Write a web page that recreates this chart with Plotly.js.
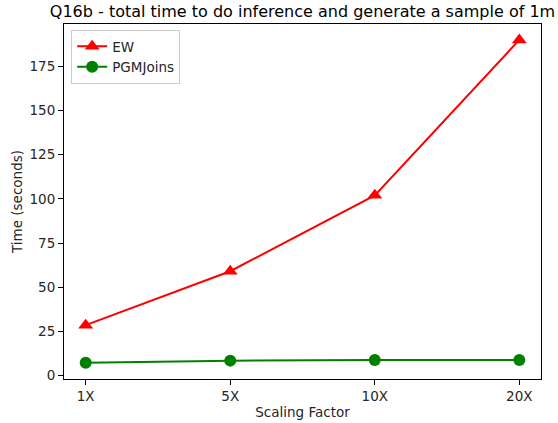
<!DOCTYPE html>
<html>
<head>
<meta charset="utf-8">
<script src="https://cdn.plot.ly/plotly-3.0.1.min.js"></script>
<style>
  html, body { margin: 0; padding: 0; background: #fff; }
  #chart { width: 558px; height: 423px; }
</style>
</head>
<body>
<div id="chart"></div>
<script>
// Scaling factors on the x axis
const scalingFactors = ["1X", "5X", "10X", "20X"];
// Total time (seconds) for inference + sampling
const ewTimes = [28.5, 59, 102, 190];
const pgmJoinsTimes = [7.2, 8.4, 8.7, 8.7];

const font = "DejaVu Sans, sans-serif";

const traces = [
  {
    x: scalingFactors,
    y: ewTimes,
    name: "EW",
    type: "scatter",
    mode: "lines+markers",
    line: { color: "#ff0000", width: 2 },
    marker: { symbol: "triangle-up", size: 13, color: "#ff0000" }
  },
  {
    x: scalingFactors,
    y: pgmJoinsTimes,
    name: "PGMJoins",
    type: "scatter",
    mode: "lines+markers",
    line: { color: "#008000", width: 2 },
    marker: { symbol: "circle", size: 12, color: "#008000" }
  }
];

const layout = {
  width: 558,
  height: 423,
  margin: { l: 64, r: 17, t: 24, b: 44 },
  paper_bgcolor: "#ffffff",
  plot_bgcolor: "#ffffff",
  font: { family: font, size: 13, color: "#262626" },
  title: {
    text: "Q16b - total time to do inference and generate a sample of 1m",
    font: { family: font, size: 16, color: "#000000" },
    x: 0.5, xref: "paper",
    y: 0.972, yref: "container", yanchor: "middle"
  },
  xaxis: {
    type: "category",
    range: [-0.15, 3.15],
    showgrid: false,
    zeroline: false,
    showline: true,
    linecolor: "#000000",
    linewidth: 1,
    mirror: true,
    ticks: "outside",
    ticklen: 5,
    tickcolor: "#000000",
    tickfont: { family: font, size: 13.5, color: "#262626" },
    title: { text: "Scaling Factor", font: { family: font, size: 13.5, color: "#262626" }, standoff: 4 }
  },
  yaxis: {
    range: [-2, 199],
    tickvals: [0, 25, 50, 75, 100, 125, 150, 175],
    showgrid: false,
    zeroline: false,
    showline: true,
    linecolor: "#000000",
    linewidth: 1,
    mirror: true,
    ticks: "outside",
    ticklen: 5,
    tickcolor: "#000000",
    tickfont: { family: font, size: 13.5, color: "#262626" },
    title: { text: "Time (seconds)", font: { family: font, size: 13.5, color: "#262626" }, standoff: 3 }
  },
  legend: {
    x: 0.015, y: 0.983,
    xanchor: "left", yanchor: "top",
    bgcolor: "rgba(255,255,255,0.8)",
    bordercolor: "#cccccc",
    borderwidth: 1,
    font: { family: font, size: 13.5, color: "#262626" },
    tracegroupgap: 2,
    itemwidth: 30
  },
  showlegend: true
};

Plotly.newPlot("chart", traces, layout, { staticPlot: true, displayModeBar: false });
</script>
</body>
</html>
